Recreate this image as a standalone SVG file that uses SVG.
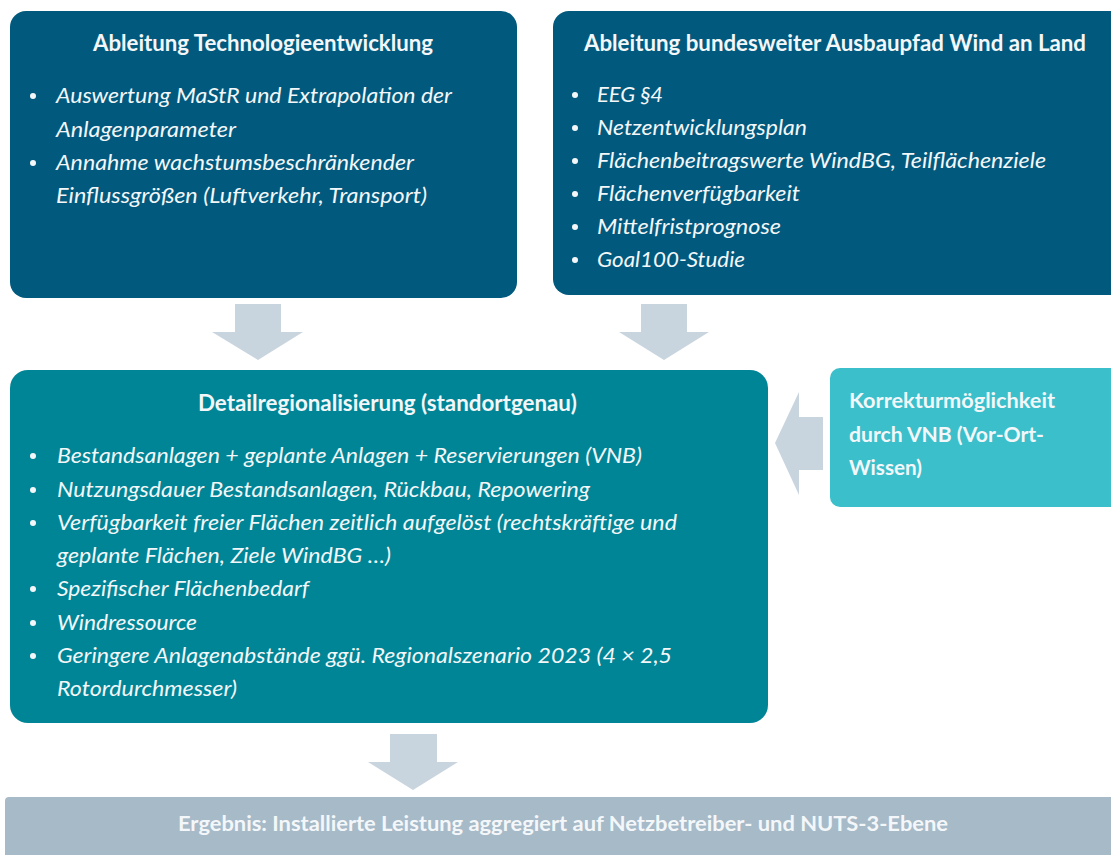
<svg xmlns="http://www.w3.org/2000/svg" width="1111" height="855" viewBox="0 0 1111 855">
<style>
.t{font-family:Lato,"Open Sans","Liberation Sans",sans-serif;fill:#F4F7F9}
.h{font-weight:bold;font-size:22.5px}
.b{font-style:italic;font-size:21.5px}
.k{font-weight:bold;font-size:21px}
.dot{fill:#F4F7F9}
.arr{fill:#C9D5DE}
</style>
<rect width="1111" height="855" fill="#ffffff"/>
<g id="connectors">
<polygon class="arr" points="235,304 281,304 281,332 303,332 258,360 212,332 235,332"/>
<polygon class="arr" points="641,304 687,304 687,332 709,332 664,360 619,332 641,332"/>
<polygon class="arr" points="823,417 823,470 799,470 799,495 775,443 799,392 799,417"/>
<polygon class="arr" points="390,734 437,734 437,762 458,762 413,790 368,762 390,762"/>
</g>
<g id="node-technologie">
<rect x="10" y="11" width="507" height="287" rx="16" fill="#015A7E"/>
<text class="t h" x="263" y="51" text-anchor="middle" textLength="340" lengthAdjust="spacingAndGlyphs">Ableitung Technologieentwicklung</text>
<circle class="dot" cx="33" cy="96" r="3"/>
<circle class="dot" cx="33" cy="163" r="3"/>
<text class="t b" x="56" y="103" textLength="396" lengthAdjust="spacingAndGlyphs">Auswertung MaStR und Extrapolation der</text>
<text class="t b" x="56" y="137" textLength="180" lengthAdjust="spacingAndGlyphs">Anlagenparameter</text>
<text class="t b" x="56" y="170" textLength="358" lengthAdjust="spacingAndGlyphs">Annahme wachstumsbeschränkender</text>
<text class="t b" x="56" y="203" textLength="371" lengthAdjust="spacingAndGlyphs">Einflussgrößen (Luftverkehr, Transport)</text>
</g>
<g id="node-ausbaupfad">
<rect x="553" y="11" width="580" height="284" rx="16" fill="#015A7E"/>
<text class="t h" x="584" y="51" textLength="502" lengthAdjust="spacingAndGlyphs">Ableitung bundesweiter Ausbaupfad Wind an Land</text>
<circle class="dot" cx="575" cy="95" r="3"/>
<circle class="dot" cx="575" cy="128" r="3"/>
<circle class="dot" cx="575" cy="161" r="3"/>
<circle class="dot" cx="575" cy="194" r="3"/>
<circle class="dot" cx="575" cy="227" r="3"/>
<circle class="dot" cx="575" cy="260" r="3"/>
<text class="t b" x="597" y="102" textLength="66" lengthAdjust="spacingAndGlyphs">EEG §4</text>
<text class="t b" x="597" y="135" textLength="210" lengthAdjust="spacingAndGlyphs">Netzentwicklungsplan</text>
<text class="t b" x="597" y="168" textLength="449" lengthAdjust="spacingAndGlyphs">Flächenbeitragswerte WindBG, Teilflächenziele</text>
<text class="t b" x="597" y="201" textLength="203" lengthAdjust="spacingAndGlyphs">Flächenverfügbarkeit</text>
<text class="t b" x="597" y="234" textLength="184" lengthAdjust="spacingAndGlyphs">Mittelfristprognose</text>
<text class="t b" x="597" y="267" textLength="148" lengthAdjust="spacingAndGlyphs">Goal100-Studie</text>
</g>
<g id="node-detail">
<rect x="10" y="370" width="758" height="353" rx="18" fill="#008596"/>
<text class="t h" x="198" y="411" textLength="379" lengthAdjust="spacingAndGlyphs">Detailregionalisierung (standortgenau)</text>
<circle class="dot" cx="33" cy="456" r="3"/>
<circle class="dot" cx="33" cy="490" r="3"/>
<circle class="dot" cx="33" cy="523" r="3"/>
<circle class="dot" cx="33" cy="589" r="3"/>
<circle class="dot" cx="33" cy="623" r="3"/>
<circle class="dot" cx="33" cy="656" r="3"/>
<text class="t b" x="57" y="463" textLength="585" lengthAdjust="spacingAndGlyphs">Bestandsanlagen + geplante Anlagen + Reservierungen (VNB)</text>
<text class="t b" x="57" y="497" textLength="533" lengthAdjust="spacingAndGlyphs">Nutzungsdauer Bestandsanlagen, Rückbau, Repowering</text>
<text class="t b" x="57" y="530" textLength="620" lengthAdjust="spacingAndGlyphs">Verfügbarkeit freier Flächen zeitlich aufgelöst (rechtskräftige und</text>
<text class="t b" x="57" y="563" textLength="334" lengthAdjust="spacingAndGlyphs">geplante Flächen, Ziele WindBG …)</text>
<text class="t b" x="57" y="596" textLength="252" lengthAdjust="spacingAndGlyphs">Spezifischer Flächenbedarf</text>
<text class="t b" x="57" y="630" textLength="140" lengthAdjust="spacingAndGlyphs">Windressource</text>
<text class="t b" x="57" y="663" textLength="615" lengthAdjust="spacingAndGlyphs">Geringere Anlagenabstände ggü. Regionalszenario 2023 (4 × 2,5</text>
<text class="t b" x="57" y="696" textLength="180" lengthAdjust="spacingAndGlyphs">Rotordurchmesser)</text>
</g>
<g id="node-korrektur">
<rect x="830" y="368" width="300" height="139" rx="10" fill="#3BBFCB"/>
<text class="t k" x="849" y="408" textLength="206" lengthAdjust="spacingAndGlyphs">Korrekturmöglichkeit</text>
<text class="t k" x="849" y="442" textLength="195" lengthAdjust="spacingAndGlyphs">durch VNB (Vor-Ort-</text>
<text class="t k" x="849" y="475" textLength="73" lengthAdjust="spacingAndGlyphs">Wissen)</text>
</g>
<g id="node-ergebnis">
<rect x="5" y="797" width="1120" height="70" rx="4" fill="#A7BAC8"/>
<text class="t k" x="178" y="831" textLength="770" lengthAdjust="spacingAndGlyphs">Ergebnis: Installierte Leistung aggregiert auf Netzbetreiber- und NUTS-3-Ebene</text>
</g>
</svg>
